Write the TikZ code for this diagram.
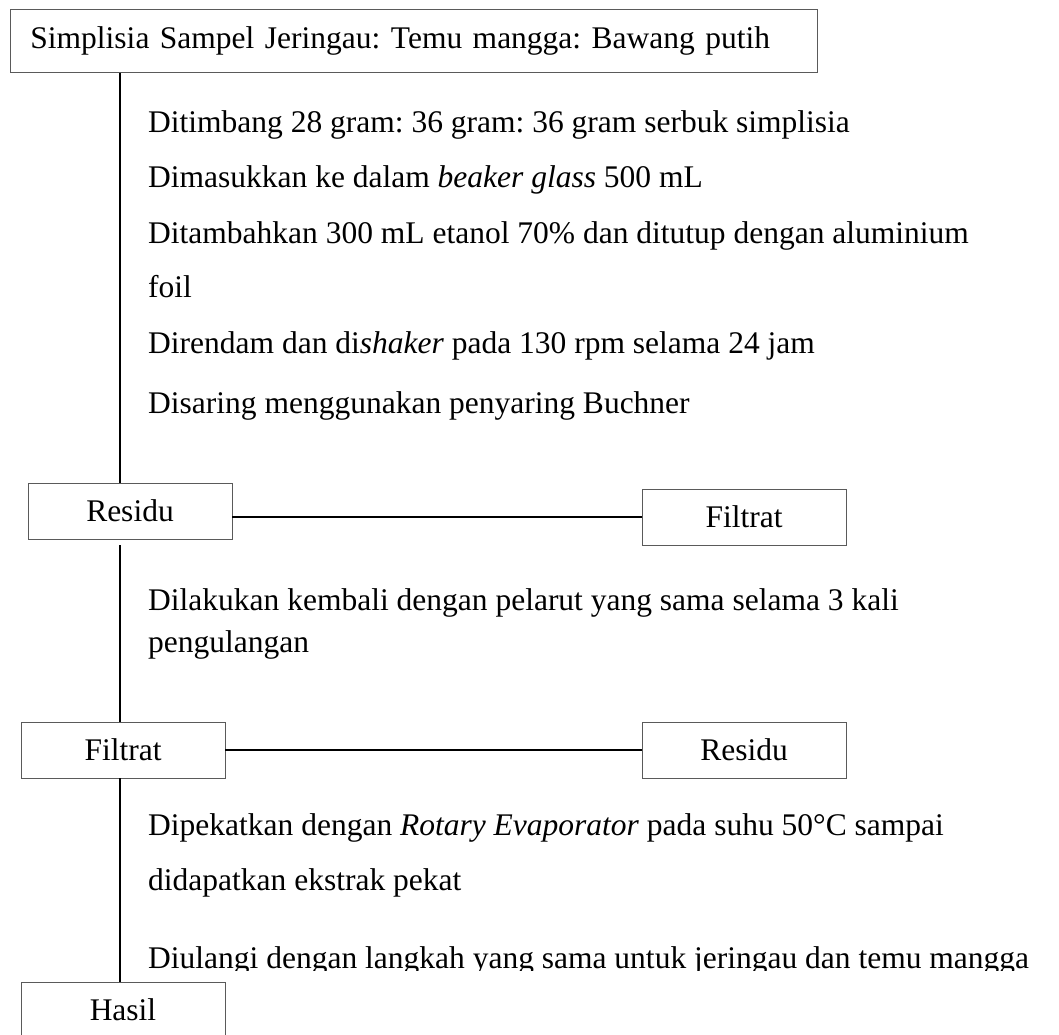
\documentclass[tikz,border=0pt]{standalone}
\usepackage{fontspec}
\setmainfont{Liberation Serif}
\definecolor{BoxLine}{HTML}{5A5A5A}
\frenchspacing

\begin{document}
\begin{tikzpicture}[x=1pt, y=-1pt,
        box/.style={draw=BoxLine, line width=0.9pt, minimum width=204pt, minimum height=56pt,
                    inner sep=0pt, font=\fontsize{31.5}{36}\selectfont},
        step line/.style={anchor=base west, inner sep=0pt, font=\fontsize{31.5}{36}\selectfont},
        link/.style={line width=1.6pt, black}
    ]
        \useasboundingbox (0,0) rectangle (1059,1034);
        \coordinate (spine) at (120,0);

        \node[box, anchor=north west, minimum height=63pt, text width=767pt, inner xsep=20pt, align=left] (top) at (10,9) {Simplisia Sampel Jeringau: Temu mangga: Bawang putih};

        \node[step line] (s1) at (148,132) {Ditimbang 28 gram: 36 gram: 36 gram serbuk simplisia};
        \node[step line] (s2) at (148,187) {Dimasukkan ke dalam \textit{beaker glass} 500 mL};
        \node[step line] (s3) at (148,243) {Ditambahkan 300 mL etanol 70\% dan ditutup dengan aluminium};
        \node[step line] (s4) at (148,297) {foil};
        \node[step line] (s5) at (148,353) {Direndam dan di\textit{shaker} pada 130 rpm selama 24 jam};
        \node[step line] (s6) at (148,413) {Disaring menggunakan penyaring Buchner};

        \node[box] (res1) at (130,511) {Residu};
        \node[box] (fil1) at (744,517) {Filtrat};

        \node[step line] (s7) at (148,610) {Dilakukan kembali dengan pelarut yang sama selama 3 kali};
        \node[step line] (s8) at (148,652) {pengulangan};

        \node[box] (fil2) at (123,750) {Filtrat};
        \node[box] (res2) at (744,750) {Residu};

        \node[step line] (s9) at (148,835) {Dipekatkan dengan \textit{Rotary Evaporator} pada suhu 50°C sampai};
        \node[step line] (s10) at (148,890) {didapatkan ekstrak pekat};
        \begin{scope}
            \clip (0,0) rectangle (1059,970);
            \node[step line] (s11) at (148,968) {Diulangi dengan langkah yang sama untuk jeringau dan temu mangga};
        \end{scope}

        \node[box] (has) at (123,1010) {Hasil};

        \draw[link] (top.south -| spine) -- (res1.north -| spine);
        \draw[link] (res1.east |- fil1.west) -- (fil1.west);
        \draw[link] ([yshift=-6pt]res1.south -| spine) -- (fil2.north -| spine);
        \draw[link] (fil2.east) -- (res2.west);
        \draw[link] (fil2.south -| spine) -- (has.north -| spine);
    \end{tikzpicture}
\end{document}
